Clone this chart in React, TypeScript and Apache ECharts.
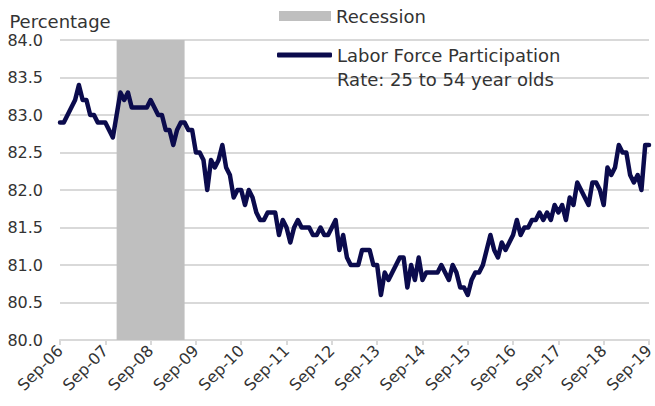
import React, { useEffect, useRef } from "react";
import * as echarts from "echarts";

const monthNames = ["Jan", "Feb", "Mar", "Apr", "May", "Jun", "Jul", "Aug", "Sep", "Oct", "Nov", "Dec"];

// Monthly values, Sep-2006 .. Sep-2019
const lfpr2006 = [82.9, 82.9, 83.0, 83.1]; // Sep-Dec
const lfpr2007 = [83.2, 83.4, 83.2, 83.2, 83.0, 83.0, 82.9, 82.9, 82.9, 82.8, 82.7, 83.0];
const lfpr2008 = [83.3, 83.2, 83.3, 83.1, 83.1, 83.1, 83.1, 83.1, 83.2, 83.1, 83.0, 83.0];
const lfpr2009 = [82.8, 82.8, 82.6, 82.8, 82.9, 82.9, 82.8, 82.8, 82.5, 82.5, 82.4, 82.0];
const lfpr2010 = [82.4, 82.3, 82.4, 82.6, 82.3, 82.2, 81.9, 82.0, 82.0, 81.8, 82.0, 81.9];
const lfpr2011 = [81.7, 81.6, 81.6, 81.7, 81.7, 81.7, 81.4, 81.6, 81.5, 81.3, 81.5, 81.6];
const lfpr2012 = [81.5, 81.5, 81.5, 81.4, 81.4, 81.5, 81.4, 81.4, 81.5, 81.6, 81.2, 81.4];
const lfpr2013 = [81.1, 81.0, 81.0, 81.0, 81.2, 81.2, 81.2, 81.0, 81.0, 80.6, 80.9, 80.8];
const lfpr2014 = [80.9, 81.0, 81.1, 81.1, 80.7, 81.0, 80.8, 81.1, 80.8, 80.9, 80.9, 80.9];
const lfpr2015 = [80.9, 81.0, 80.9, 80.8, 81.0, 80.9, 80.7, 80.7, 80.6, 80.8, 80.9, 80.9];
const lfpr2016 = [81.0, 81.2, 81.4, 81.2, 81.1, 81.3, 81.2, 81.3, 81.4, 81.6, 81.4, 81.5];
const lfpr2017 = [81.5, 81.6, 81.6, 81.7, 81.6, 81.7, 81.6, 81.8, 81.7, 81.8, 81.6, 81.9];
const lfpr2018 = [81.8, 82.1, 82.0, 81.9, 81.8, 82.1, 82.1, 82.0, 81.8, 82.3, 82.2, 82.3];
const lfpr2019 = [82.6, 82.5, 82.5, 82.2, 82.1, 82.2, 82.0, 82.6, 82.6]; // Jan-Sep

const startYear = 2006;
const startMonth = 8; // September (0-based)

const recessionStart = "Dec-07";
const recessionEnd = "Jun-09";

const yTicksMin = 80;
const yTicksMax = 84;
const yTickStep = 0.5;

const lineName = "Labor Force Participation Rate: 25 to 54 year olds";
const recessionName = "Recession";

const values = [
  ...lfpr2006, ...lfpr2007, ...lfpr2008, ...lfpr2009, ...lfpr2010, ...lfpr2011, ...lfpr2012,
  ...lfpr2013, ...lfpr2014, ...lfpr2015, ...lfpr2016, ...lfpr2017, ...lfpr2018, ...lfpr2019,
];

const categories = values.map((_, i) => {
  const m = startMonth + i;
  const yr = startYear + Math.floor(m / 12);
  return monthNames[m % 12] + "-" + String(yr % 100).padStart(2, "0");
});

const FONT = "DejaVu Sans";
const TEXT = "#333333";
const NAVY = "#0b0b4d";
const GRID = "#d9d9d9";
const BAND = "#bfbfbf";

export default function App() {
  const ref = useRef<HTMLDivElement>(null);

  useEffect(() => {
    document.body.style.margin = "0";
    document.body.style.overflow = "hidden";
    if (!ref.current) return;
    const chart = echarts.init(ref.current, undefined, { renderer: "svg", width: 655, height: 406 });
    chart.setOption({
      animation: false,
      textStyle: { fontFamily: FONT, color: TEXT },
      grid: {
        left: 60,
        right: 6,
        top: 40,
        bottom: 66,
        containLabel: false,
        outerBoundsMode: "none",
      },
      legend: [
        {
          data: [{ name: recessionName, icon: "rect" }],
          left: 279,
          top: 6,
          padding: 0,
          itemWidth: 52,
          itemHeight: 10,
          itemGap: 6,
          textStyle: { fontFamily: FONT, fontSize: 18, color: TEXT, lineHeight: 20 },
          selectedMode: false,
        },
        {
          data: [{ name: lineName, icon: "roundRect" }],
          left: 277,
          top: 22,
          padding: 0,
          itemWidth: 55,
          itemHeight: 5,
          selectedMode: false,
          formatter: () =>
            "{t| }\n{t|Labor Force Participation}\n{t|Rate: 25 to 54 year olds}",
          textStyle: {
            fontFamily: FONT,
            fontSize: 18,
            color: TEXT,
            rich: { t: { fontFamily: FONT, fontSize: 18, lineHeight: 24, color: TEXT } },
          },
        },
      ],
      xAxis: {
        type: "category",
        data: categories,
        boundaryGap: false,
        axisLine: { show: true, lineStyle: { color: GRID, width: 2 } },
        axisTick: { show: true, interval: 11, length: 5, lineStyle: { color: GRID, width: 2 } },
        axisLabel: {
          interval: 11,
          rotate: 45,
          fontSize: 16,
          fontFamily: FONT,
          color: TEXT,
          margin: 8,
        },
        splitLine: { show: false },
      },
      yAxis: {
        type: "value",
        min: yTicksMin,
        max: yTicksMax,
        interval: yTickStep,
        name: "Percentage",
        nameLocation: "end",
        nameGap: 19,
        nameTextStyle: {
          fontFamily: FONT,
          fontSize: 18,
          color: TEXT,
          align: "center",
          verticalAlign: "middle",
          padding: [0, 0, 0, 0],
        },
        axisLine: { show: false },
        axisTick: { show: false },
        axisLabel: {
          fontSize: 16,
          fontFamily: FONT,
          color: TEXT,
          margin: 17,
          formatter: (v: number) => v.toFixed(1),
        },
        splitLine: { show: true, lineStyle: { color: GRID, width: 2 } },
      },
      series: [
        {
          name: recessionName,
          type: "line",
          data: [],
          showSymbol: false,
          itemStyle: { color: BAND },
          lineStyle: { color: BAND },
        },
        {
          name: lineName,
          type: "line",
          data: values,
          showSymbol: false,
          symbol: "none",
          lineStyle: { color: NAVY, width: 4.5, join: "round", cap: "round" },
          itemStyle: { color: NAVY },
          markArea: {
            silent: true,
            itemStyle: { color: BAND, opacity: 1 },
            data: [[{ xAxis: recessionStart }, { xAxis: recessionEnd }]],
          },
          z: 3,
        },
      ],
    });
    return () => chart.dispose();
  }, []);

  return <div ref={ref} style={{ width: 655, height: 406, background: "#fff" }} />;
}
